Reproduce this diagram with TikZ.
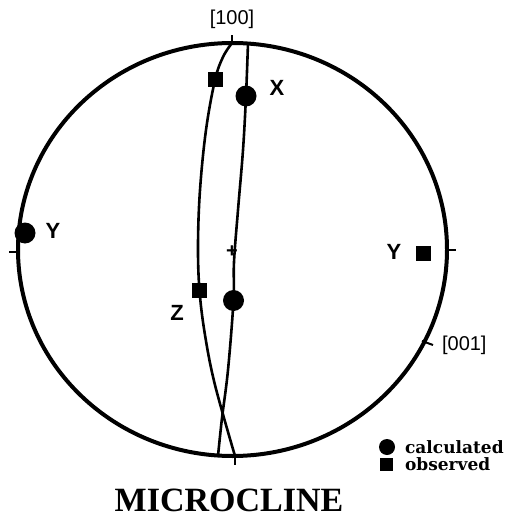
\documentclass[tikz,border=0pt]{standalone}
\usepackage{fontspec}
\setmainfont{Liberation Serif}
\setsansfont{Liberation Sans}
\newfontfamily\legendfont{DejaVu Serif}
\usetikzlibrary{positioning}

\tikzset{
  calc dot/.style={circle, fill=black, inner sep=0pt, minimum size=10.5pt},
  obs sq/.style={rectangle, fill=black, inner sep=0pt, minimum size=7.5pt},
  axis label/.style={font=\sffamily\fontsize{10}{10}\selectfont},
  dir label/.style={font=\sffamily\bfseries\fontsize{11}{12}\selectfont},
  trace/.style={line width=1.3pt, line join=round}
}

\begin{document}
\begin{tikzpicture}[x=0.5pt, y=-0.5pt]
    \useasboundingbox (0,0) rectangle (509,524);

    % primitive circle
    \coordinate (o) at (232.5,249.5);
    \draw[line width=2pt] (o) ellipse [x radius=214.5, y radius=206.5];
    \node[font=\sffamily\bfseries\fontsize{10}{10}\selectfont] (centre) at (232,252) {+};

    % ticks on the circle
    \coordinate (top) at (232,43);
    \coordinate (bot) at (235,456);
    \coordinate (lft) at (18,252);
    \coordinate (rgt) at (447,250);
    \coordinate (c001) at (422,341);
    \draw[line width=1pt] (top) -- ++(0,-8);
    \draw[line width=1pt] (bot) -- ++(0,9);
    \draw[line width=1pt] (lft) -- ++(-9,0);
    \draw[line width=1pt] (rgt) -- ++(9,0);
    \draw[line width=1pt] (c001) -- ++(11,4);
    \node[axis label] (l100) at (232,19) {[100]};
    \node[axis label, anchor=west] (l001) at (435,345) {[001]};

    % observed
    \node[obs sq] (sqX) at (215,80) {};
    \node[obs sq] (sqY) at (423,253) {};
    \node[obs sq] (sqZ) at (199.5,290.5) {};

    % calculated
    \node[calc dot] (dotX) at (246,96) {};
    \node[calc dot] (dotY) at (25,233) {};
    \node[calc dot] (dotZ) at (233.5,300.5) {};

    \node[dir label] (lX) at (277,88) {X};
    \node[dir label] (lYl) at (53,231) {Y};
    \node[dir label] (lYr) at (394,252) {Y};
    \node[dir label] (lZ) at (177,313) {Z};

    % traces
    \draw[trace] plot[smooth, tension=0.6] coordinates
      {(top) (223,57) (sqX) (206,130) (200,190) (198,245) (sqZ) (205,335) (215,385) (235,456)};
    \draw[trace] plot[smooth, tension=0.6] coordinates
      {(248,43) (dotX) (243,150) (238,210) (234,262) (dotZ) (228,370) (222,418) (218,456)};

    % legend
    \node[calc dot, minimum size=8pt] (kdot) at (387,447) {};
    \node[obs sq, minimum size=6.5pt] (ksq) at (386,464) {};
    \node[anchor=west, font=\legendfont\bfseries\fontsize{8.5}{9}\selectfont] (kcalc) at (398,447) {calculated};
    \node[anchor=west, font=\legendfont\bfseries\fontsize{8.5}{9}\selectfont] (kobs) at (398,464) {observed};

    % title
    \node[font=\bfseries\fontsize{17}{18}\selectfont] (title) at (229,500) {MICROCLINE};
\end{tikzpicture}
\end{document}
